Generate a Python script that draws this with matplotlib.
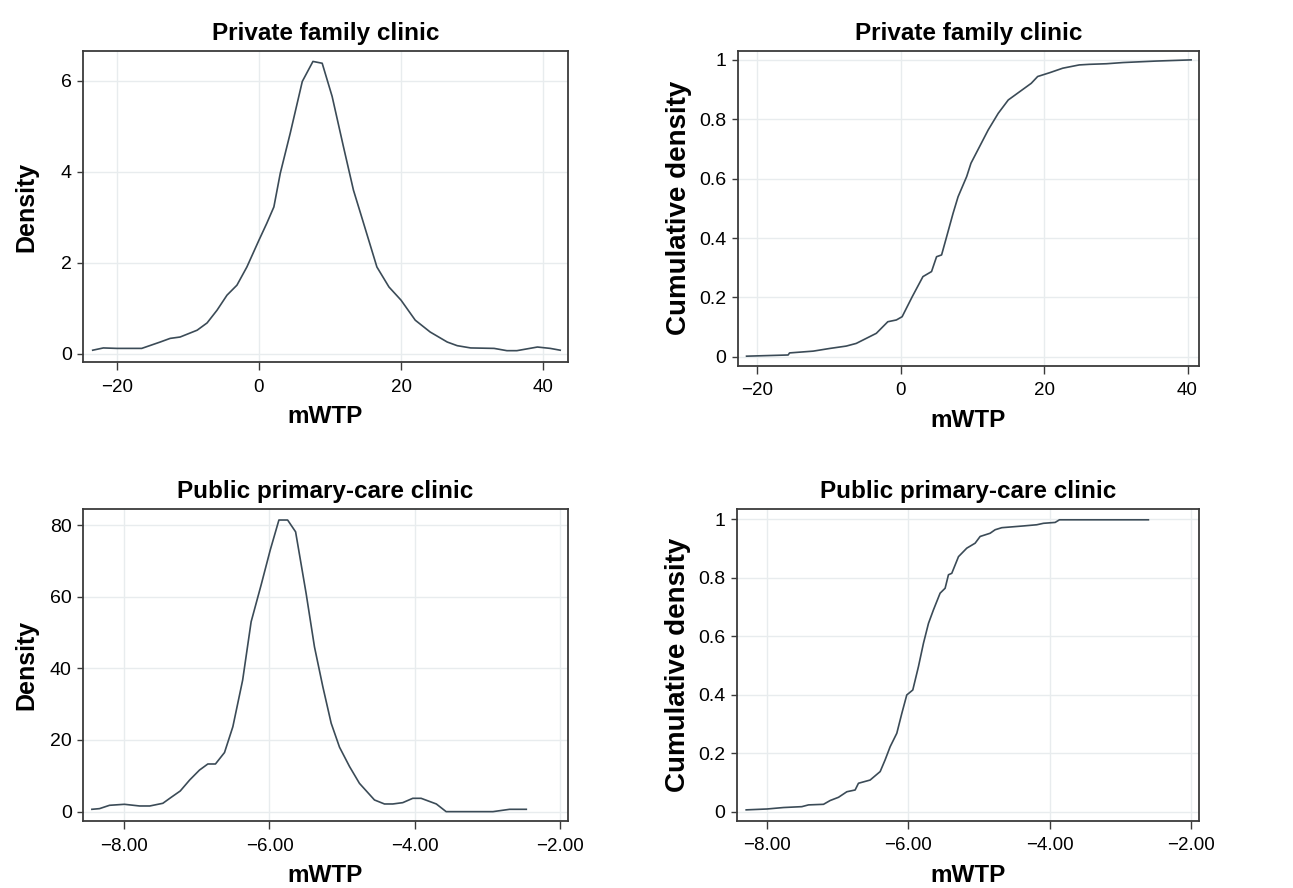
import matplotlib
matplotlib.use("Agg")
import matplotlib.pyplot as plt
from matplotlib.ticker import FuncFormatter

plt.rcParams["font.family"] = ["Liberation Sans", "DejaVu Sans"]

# ----------------------------
# Data
# ----------------------------
# Private family clinic - kernel density
priv_dens_x = [-23.4, -21.9, -20.0, -16.5, -13.9, -12.5, -11.1, -8.7, -7.3, -5.9,
               -4.5, -3.1, -1.7, 0.0, 1.1, 2.1, 3.0, 4.4, 6.1, 7.6,
               8.9, 10.3, 11.9, 13.3, 14.3, 16.6, 18.3, 20.0, 22.0, 24.1,
               26.5, 27.9, 29.8, 33.1, 34.9, 36.3, 39.2, 41.0, 42.4]
priv_dens_y = [0.08, 0.13, 0.12, 0.12, 0.26, 0.34, 0.37, 0.52, 0.68, 0.96,
               1.29, 1.51, 1.91, 2.50, 2.87, 3.23, 3.97, 4.85, 5.99, 6.43,
               6.39, 5.66, 4.55, 3.60, 3.09, 1.91, 1.47, 1.18, 0.74, 0.48,
               0.26, 0.18, 0.13, 0.12, 0.07, 0.07, 0.15, 0.12, 0.08]

# Private family clinic - cumulative
priv_cdf_x = [-21.5, -15.7, -15.5, -12.2, -9.9, -7.6, -6.2, -4.8, -3.4, -1.8,
              -0.6, 0.2, 1.6, 3.1, 4.3, 5.0, 5.7, 6.4, 7.3, 8.0,
              9.2, 9.8, 11.0, 12.2, 13.6, 15.0, 16.6, 18.2, 19.1, 20.8,
              22.6, 24.9, 26.3, 28.7, 31.0, 35.6, 40.5]
priv_cdf_y = [0.002, 0.006, 0.013, 0.019, 0.028, 0.036, 0.045, 0.062, 0.079, 0.118,
              0.124, 0.135, 0.202, 0.270, 0.287, 0.337, 0.343, 0.404, 0.483, 0.539,
              0.607, 0.652, 0.708, 0.764, 0.820, 0.865, 0.893, 0.921, 0.944, 0.957,
              0.972, 0.983, 0.985, 0.987, 0.991, 0.996, 1.000]

# Public primary-care clinic - kernel density
pub_dens_x = [-8.448, -8.343, -8.205, -8.0, -7.79, -7.65, -7.47, -7.355, -7.23, -7.10,
              -6.965, -6.85, -6.745, -6.62, -6.505, -6.37, -6.253, -6.115, -5.99, -5.87,
              -5.75, -5.64, -5.495, -5.38, -5.265, -5.15, -5.035, -4.897, -4.76, -4.553,
              -4.415, -4.30, -4.163, -4.025, -3.91, -3.70, -3.565, -3.38, -2.92, -2.69,
              -2.46]
pub_dens_y = [0.65, 0.84, 1.77, 2.05, 1.58, 1.58, 2.33, 4.0, 5.77, 8.84,
              11.6, 13.3, 13.3, 16.5, 23.7, 36.7, 53.0, 63.3, 73.0, 81.4,
              81.4, 78.1, 60.9, 46.0, 34.9, 24.7, 18.0, 12.6, 7.9, 3.26,
              2.14, 2.14, 2.51, 3.72, 3.72, 2.14, 0.0, 0.0, 0.0, 0.65,
              0.65]

# Public primary-care clinic - cumulative
pub_cdf_x = [-8.294, -8.0, -7.766, -7.507, -7.413, -7.201, -7.107, -6.989, -6.871, -6.754,
             -6.707, -6.542, -6.40, -6.33, -6.259, -6.165, -6.094, -6.024, -5.939, -5.859,
             -5.788, -5.717, -5.647, -5.553, -5.482, -5.435, -5.388, -5.293, -5.176, -5.058,
             -4.987, -4.846, -4.775, -4.681, -4.375, -4.187, -4.092, -3.927, -3.866, -2.609]
pub_cdf_y = [0.006, 0.009, 0.014, 0.017, 0.023, 0.025, 0.038, 0.049, 0.068, 0.074,
             0.097, 0.108, 0.137, 0.177, 0.222, 0.268, 0.336, 0.399, 0.416, 0.496,
             0.576, 0.644, 0.690, 0.747, 0.764, 0.810, 0.815, 0.872, 0.901, 0.918,
             0.941, 0.952, 0.964, 0.971, 0.977, 0.981, 0.986, 0.989, 0.998, 0.998]

priv_xticks = [-20, 0, 20, 40]
pub_xticks = [-8.0, -6.0, -4.0, -2.0]
dens_priv_yticks = [0, 2, 4, 6]
dens_pub_yticks = [0, 20, 40, 60, 80]
cdf_yticks = [0, 0.2, 0.4, 0.6, 0.8, 1]

# ----------------------------
# Style
# ----------------------------
LINE_COLOR = "#3b4b57"
SPINE_COLOR = "#3a3a3a"
GRID_COLOR = "#e8ecee"


def style_axes(ax, title, ylabel, ylabel_size, ylabel_x, xticks, yticks, xfmt, yfmt):
    ax.set_title(title, fontsize=17.5, fontweight="bold", pad=8)
    ax.set_xlabel("mWTP", fontsize=17.5, fontweight="bold", labelpad=7)
    ax.set_ylabel(ylabel, fontsize=ylabel_size, fontweight="bold")
    ax.yaxis.set_label_coords(ylabel_x, 0.5)
    ax.set_xticks(xticks)
    ax.set_yticks(yticks)
    ax.xaxis.set_major_formatter(FuncFormatter(xfmt))
    ax.yaxis.set_major_formatter(FuncFormatter(yfmt))
    ax.tick_params(axis="x", labelsize=13.5, length=6, width=1, color=SPINE_COLOR,
                   direction="out", pad=6)
    ax.tick_params(axis="y", labelsize=14, length=4, width=1, color=SPINE_COLOR,
                   direction="out", pad=4)
    ax.grid(True, color=GRID_COLOR, linewidth=1)
    ax.set_axisbelow(True)
    for sp in ax.spines.values():
        sp.set_color(SPINE_COLOR)
        sp.set_linewidth(1.3)


def fmt_int(v, pos):
    return f"{v:.0f}".replace("-", "\u2212")


def fmt_2dp(v, pos):
    return f"{v:.2f}".replace("-", "\u2212")


def fmt_cdf(v, pos):
    if abs(v) < 1e-9:
        return "0"
    if abs(v - 1) < 1e-9:
        return "1"
    return f"{v:.1f}"


fig = plt.figure(figsize=(12.93, 8.88), dpi=100)

ax1 = fig.add_axes([0.064, 0.5923, 0.3753, 0.3503])
ax2 = fig.add_axes([0.5705, 0.5882, 0.3568, 0.3544])
ax3 = fig.add_axes([0.064, 0.0755, 0.3753, 0.3510])
ax4 = fig.add_axes([0.5697, 0.0758, 0.3578, 0.3507])

# Top-left: density, private
ax1.plot(priv_dens_x, priv_dens_y, color=LINE_COLOR, linewidth=1.2)
style_axes(ax1, "Private family clinic", "Density", 18, -0.092,
           priv_xticks, dens_priv_yticks, fmt_int, fmt_int)
ax1.set_xlim(-24.8, 43.5)
ax1.set_ylim(-0.18, 6.66)

# Top-right: cumulative, private
ax2.plot(priv_cdf_x, priv_cdf_y, color=LINE_COLOR, linewidth=1.2)
style_axes(ax2, "Private family clinic", "Cumulative density", 20, -0.099,
           priv_xticks, cdf_yticks, fmt_int, fmt_cdf)
ax2.set_xlim(-22.74, 41.6)
ax2.set_ylim(-0.03, 1.03)

# Bottom-left: density, public
ax3.plot(pub_dens_x, pub_dens_y, color=LINE_COLOR, linewidth=1.2)
style_axes(ax3, "Public primary-care clinic", "Density", 18, -0.092,
           pub_xticks, dens_pub_yticks, fmt_2dp, fmt_int)
ax3.set_xlim(-8.574, -1.885)
ax3.set_ylim(-2.6, 84.4)

# Bottom-right: cumulative, public
ax4.plot(pub_cdf_x, pub_cdf_y, color=LINE_COLOR, linewidth=1.2)
style_axes(ax4, "Public primary-care clinic", "Cumulative density", 20, -0.099,
           pub_xticks, cdf_yticks, fmt_2dp, fmt_cdf)
ax4.set_xlim(-8.429, -1.89)
ax4.set_ylim(-0.031, 1.034)

fig.savefig("out.png", dpi=100, facecolor="white")
